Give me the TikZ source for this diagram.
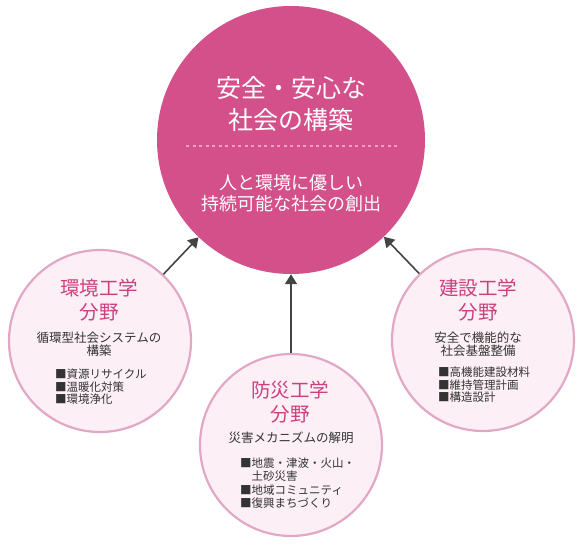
\documentclass[tikz,border=0pt]{standalone}
\usepackage{fontspec}
\setmainfont{Noto Sans CJK JP}
\usepackage{tikz}
\usetikzlibrary{arrows.meta,positioning}
\usepackage{xcolor}

\definecolor{mainpink}{HTML}{D4508A}
\definecolor{dotpink}{HTML}{F29DC3}
\definecolor{lightpink}{HTML}{FCEFF5}
\definecolor{rimpink}{HTML}{E2A7C5}
\definecolor{titlepink}{HTML}{C9427F}
\definecolor{textgray}{HTML}{333333}
\definecolor{arrowgray}{HTML}{444444}

\begin{document}
\begin{tikzpicture}[
    x=1pt, y=-1pt,
    bigcircle/.style={circle, fill=mainpink, minimum size=268pt, inner sep=0pt},
    fieldcircle/.style={circle, draw=rimpink, line width=2.2pt, fill=lightpink, minimum size=182pt, inner sep=0pt},
    maintitle/.style={text=white, align=center, font=\fontsize{25}{32}\selectfont},
    mainsub/.style={text=white, align=center, font=\fontsize{18}{21.5}\selectfont},
    fieldtitle/.style={text=titlepink, align=center, font=\fontsize{19.5}{24}\selectfont},
    fielddesc/.style={text=textgray, align=center, font=\fontsize{12.5}{12.5}\selectfont},
    fieldlist/.style={text=textgray, align=left, anchor=west, inner sep=0pt, font=\fontsize{11.5}{12.5}\selectfont},
    arrow/.style={-{Triangle[width=12pt,length=10pt]}, draw=arrowgray, fill=arrowgray, line width=1.6pt}
]
    \useasboundingbox (0,0) rectangle (580,548);

    % Goal circle
    \node[bigcircle] (main) at (291,140) {};
    \node[maintitle] (maintext) at (291,104) {安全・安心な\\社会の構築};
    \draw[dotpink, line width=1.5pt, dash pattern=on 3pt off 3.5pt] (186,146) -- (397,146);
    \node[mainsub] (subtext) at (291,193) {人と環境に優しい\\持続可能な社会の創出};

    % Environmental engineering
    \node[fieldcircle] (env) at (100,341) {};
    \node[fieldtitle] (envtitle) at (99,300) {環境工学\\分野};
    \node[fielddesc] (envdesc) at (99,344) {循環型社会システムの\\構築};
    \node[fieldlist] (envlist) at (55,387) {■資源リサイクル\\■温暖化対策\\■環境浄化};

    % Construction engineering
    \node[fieldcircle] (con) at (483,340) {};
    \node[fieldtitle] (contitle) at (478,300) {建設工学\\分野};
    \node[fielddesc] (condesc) at (478,344) {安全で機能的な\\社会基盤整備};
    \node[fieldlist] (conlist) at (438,385) {■高機能建設材料\\■維持管理計画\\■構造設計};

    % Disaster prevention
    \node[fieldcircle] (dis) at (291,445) {};
    \node[fieldtitle] (distitle) at (290,402) {防災工学\\分野};
    \node[fielddesc] (disdesc) at (291,438) {災害メカニズムの解明};
    \node[fieldlist, font=\fontsize{11.5}{13.5}\selectfont] (dislist) at (240,483) {■地震・津波・火山・\\\phantom{■}土砂災害\\■地域コミュニティ\\■復興まちづくり};

    \draw[arrow] (env) -- (main);
    \draw[arrow] (con) -- (main);
    \draw[arrow] (dis) -- (main);
\end{tikzpicture}
\end{document}
